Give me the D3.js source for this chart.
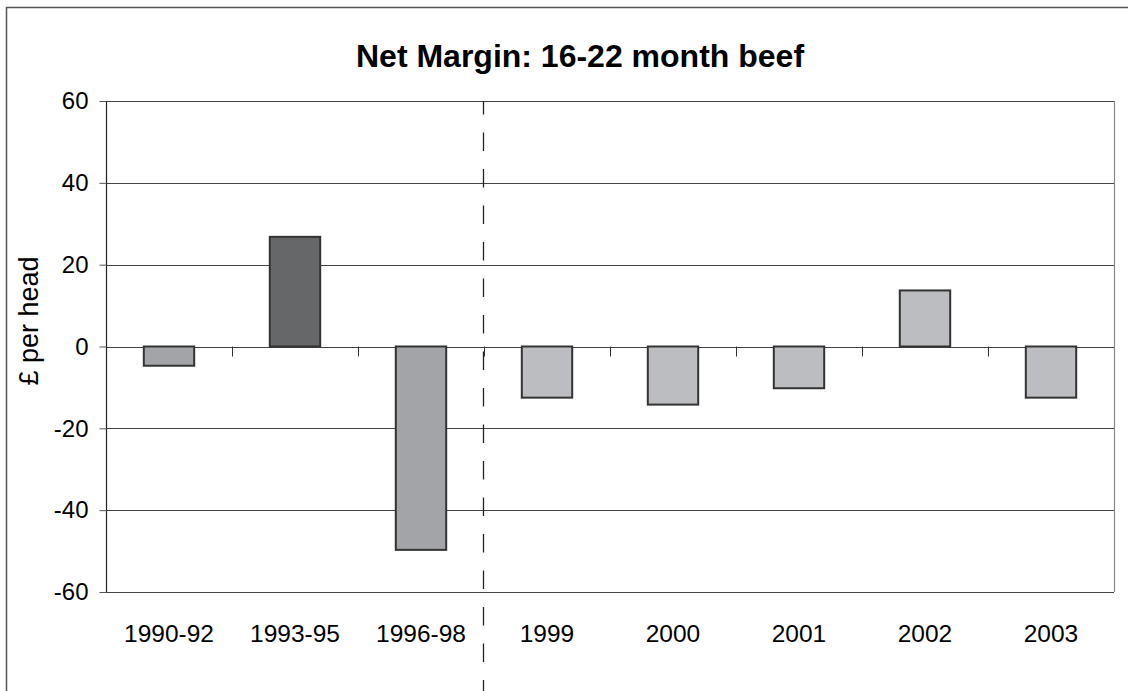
<!DOCTYPE html>
<html>
<head>
<meta charset="utf-8">
<script src="https://cdn.jsdelivr.net/npm/d3@7"></script>
<style>
  html, body { margin: 0; padding: 0; background: #fff; }
  svg { display: block; }
  text { font-family: "Liberation Sans", Arial, sans-serif; fill: #000; }
</style>
</head>
<body>
<svg id="chart" width="1128" height="691"></svg>
<script>
const categories = ["1990-92", "1993-95", "1996-98", "1999", "2000", "2001", "2002", "2003"];
const values = [-4.7, 26.8, -49.7, -12.5, -14.2, -10.2, 13.7, -12.5];
const barColors = ["#a3a4a8", "#666769", "#a3a4a8", "#bcbdc0", "#bcbdc0", "#bcbdc0", "#bcbdc0", "#bcbdc0"];
const yTicks = [60, 40, 20, 0, -20, -40, -60];
const yTickLabels = ["60", "40", "20", "0", "-20", "-40", "-60"];
const title = "Net Margin: 16-22 month beef";
const yLabel = "£ per head";
const splitAfter = "1996-98";

const svg = d3.select("#chart");
const plot = { left: 106, right: 1114, top: 101, bottom: 592 };

// outer chart frame (left & top visible)
svg.append("rect")
  .attr("x", 6.5).attr("y", 7.5)
  .attr("width", 1200).attr("height", 800)
  .attr("fill", "none").attr("stroke", "#555").attr("stroke-width", 1.5);

const x = d3.scaleBand().domain(categories).range([plot.left, plot.right]).paddingInner(0.6).paddingOuter(0.3);
const xb = d3.scaleBand().domain(categories).range([plot.left, plot.right]);
const y = d3.scaleLinear().domain([-60, 60]).range([plot.bottom, plot.top]);

// gridlines
svg.append("g").selectAll("line").data(yTicks).join("line")
  .attr("x1", plot.left).attr("x2", plot.right)
  .attr("y1", d => Math.round(y(d)) + 0.5).attr("y2", d => Math.round(y(d)) + 0.5)
  .attr("stroke", "#444").attr("stroke-width", 1.2);

// plot border left / right
svg.append("line").attr("x1", plot.left + 0.5).attr("x2", plot.left + 0.5)
  .attr("y1", plot.top).attr("y2", plot.bottom).attr("stroke", "#222").attr("stroke-width", 1.2);
svg.append("line").attr("x1", plot.right + 0.5).attr("x2", plot.right + 0.5)
  .attr("y1", plot.top).attr("y2", plot.bottom).attr("stroke", "#888").attr("stroke-width", 1.2);

// y axis
const yAxis = d3.axisLeft(y).tickValues(yTicks).tickSize(7).tickPadding(11)
  .tickFormat((d, i) => yTickLabels[i]);
const gy = svg.append("g").attr("transform", `translate(${plot.left + 0.5},0)`).call(yAxis);
gy.select(".domain").remove();
gy.selectAll(".tick line").attr("stroke", "#555");
gy.selectAll(".tick text").attr("font-size", 24).attr("font-family", "Liberation Sans, Arial, sans-serif").attr("fill", "#000");

// bars
svg.append("g").selectAll("rect").data(categories).join("rect")
  .attr("x", d => x(d))
  .attr("width", x.bandwidth())
  .attr("y", (d, i) => y(Math.max(0, values[i])))
  .attr("height", (d, i) => Math.abs(y(values[i]) - y(0)))
  .attr("fill", (d, i) => barColors[i])
  .attr("stroke", "#333").attr("stroke-width", 2);

// category separator ticks on zero line
const sepX = categories.slice(1).map(c => xb(c));
svg.append("g").selectAll("line").data(sepX).join("line")
  .attr("x1", d => Math.round(d) + 0.5).attr("x2", d => Math.round(d) + 0.5)
  .attr("y1", y(0)).attr("y2", y(0) + 10)
  .attr("stroke", "#333").attr("stroke-width", 1);

// x labels
svg.append("g").selectAll("text").data(categories).join("text")
  .attr("x", d => xb(d) + xb.bandwidth() / 2)
  .attr("y", 642)
  .attr("text-anchor", "middle")
  .attr("font-size", 24.5)
  .text(d => d);

// dashed divider
const divX = xb(splitAfter) + xb.bandwidth();
svg.append("line")
  .attr("x1", divX - 0.5).attr("x2", divX - 0.5)
  .attr("y1", plot.top).attr("y2", 691)
  .attr("stroke", "#222").attr("stroke-width", 1.3)
  .attr("stroke-dasharray", "18.5,18")
  .attr("stroke-dashoffset", 5);

// title
svg.append("text")
  .attr("x", 580).attr("y", 67)
  .attr("text-anchor", "middle")
  .attr("font-size", 32).attr("font-weight", "bold")
  .text(title);

// y label
svg.append("text")
  .attr("transform", `translate(38,321) rotate(-90)`)
  .attr("text-anchor", "middle")
  .attr("font-size", 27)
  .text(yLabel);
</script>
</body>
</html>
